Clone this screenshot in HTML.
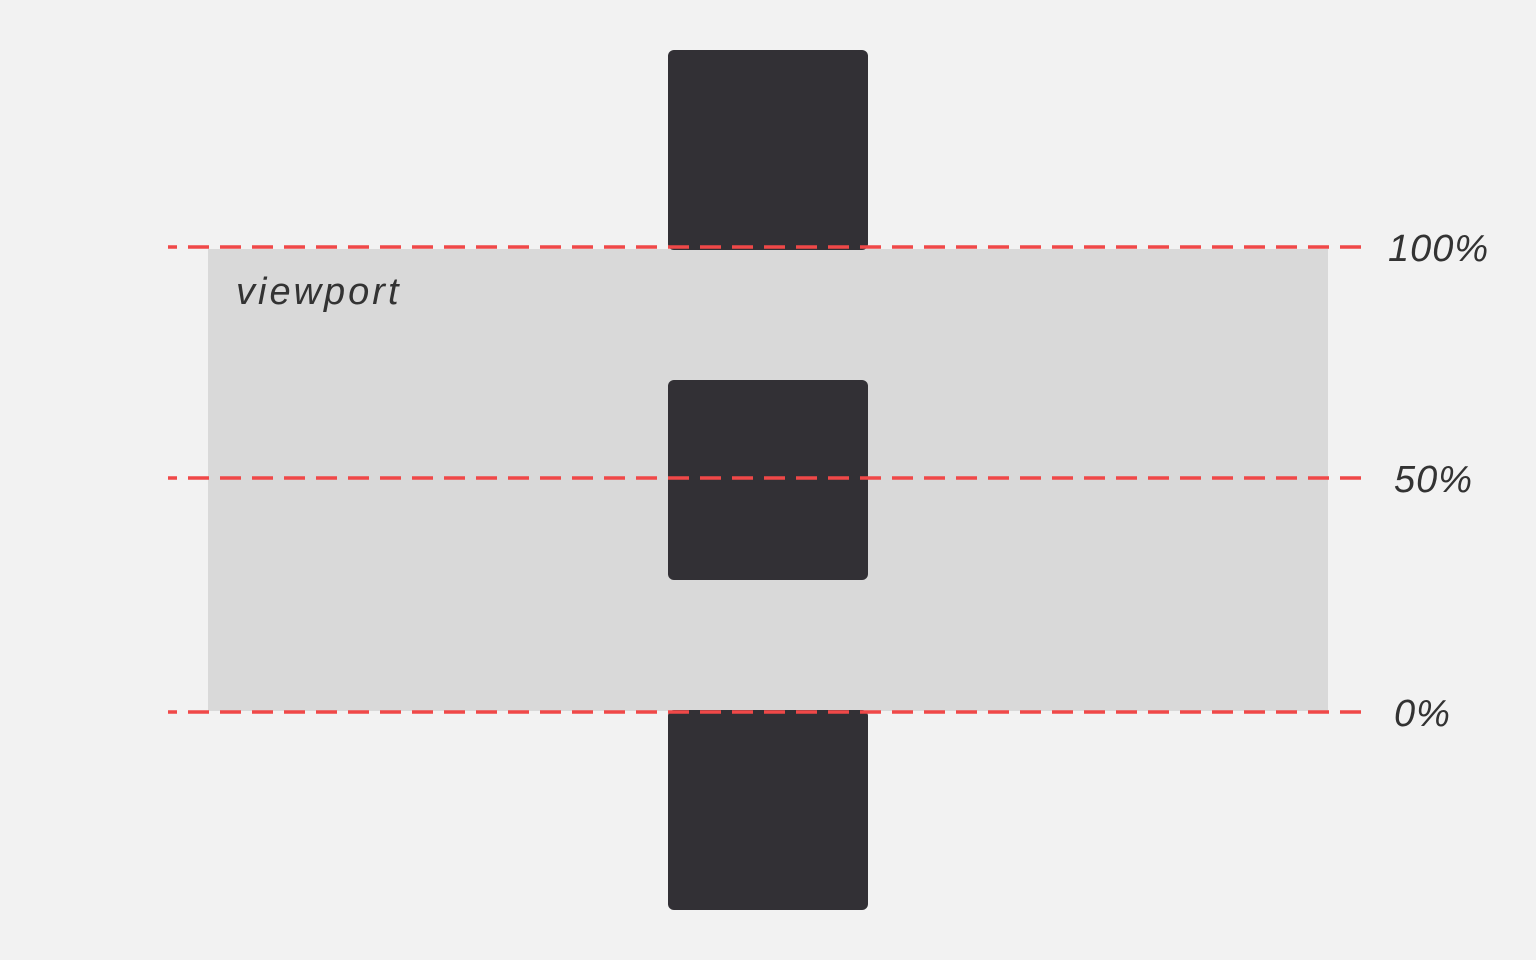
<!DOCTYPE html>
<html><head><meta charset="utf-8"><style>
html,body{margin:0;padding:0;background:#f2f2f2;width:1536px;height:960px;overflow:hidden}
svg{display:block}
text{font-family:"Liberation Sans",sans-serif;font-style:italic;fill:#333}
</style></head><body>
<svg width="1536" height="960" viewBox="0 0 1536 960">
<rect x="0" y="0" width="1536" height="960" fill="#f2f2f2"/>
<rect x="208" y="249" width="1120" height="462" fill="#d9d9d9"/>
<text x="236" y="304" font-size="38" letter-spacing="3">viewport</text>
<rect x="668" y="50" width="200" height="200" rx="6" fill="#323035"/>
<rect x="668" y="380" width="200" height="200" rx="6" fill="#323035"/>
<rect x="668" y="710" width="200" height="200" rx="6" fill="#323035"/>
<g stroke="#f04848" stroke-width="3.5" stroke-dasharray="21 11" stroke-dashoffset="12">
<line x1="168" y1="247" x2="1368" y2="247"/>
<line x1="168" y1="478" x2="1368" y2="478"/>
<line x1="168" y1="712" x2="1368" y2="712"/>
</g>
<text x="1388" y="261" font-size="38" letter-spacing="1">100%</text>
<text x="1394" y="492" font-size="38" letter-spacing="1">50%</text>
<text x="1394" y="726" font-size="38" letter-spacing="1">0%</text>
</svg>
</body></html>
